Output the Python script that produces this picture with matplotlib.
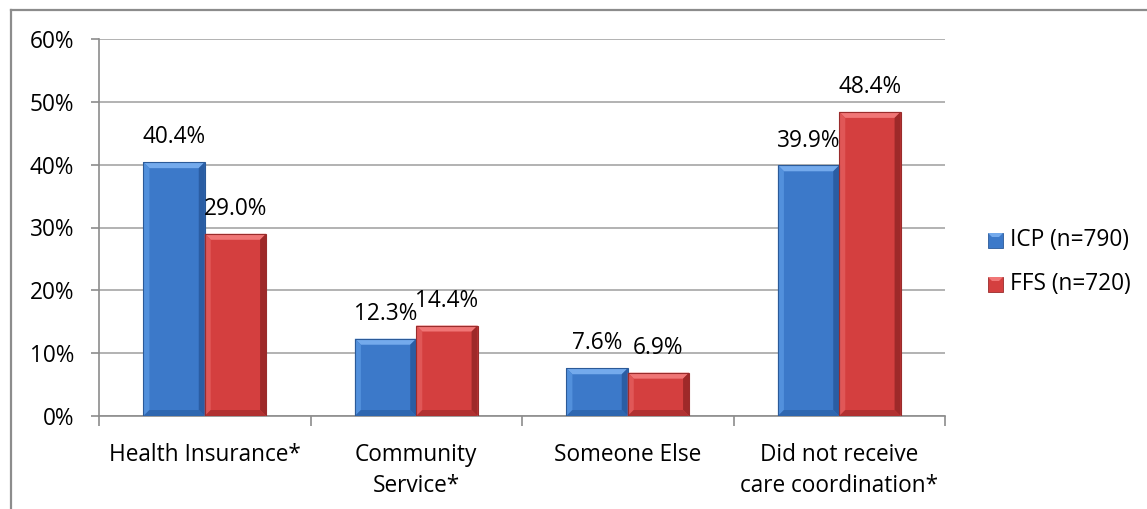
import matplotlib
matplotlib.use("Agg")
import matplotlib.pyplot as plt
from matplotlib.patches import Polygon, Rectangle
from matplotlib.lines import Line2D
import numpy as np

categories = ["Health Insurance*", "Community\nService*", "Someone Else",
              "Did not receive\ncare coordination*"]
icp_values = [40.4, 12.3, 7.6, 39.9]
ffs_values = [29.0, 14.4, 6.9, 48.4]
series_names = ["ICP (n=790)", "FFS (n=720)"]
y_ticks = [0, 10, 20, 30, 40, 50, 60]

plt.rcParams["font.family"] = ["Open Sans", "DejaVu Sans"]
FS = 16.3

W, H, DPI = 1147, 509, 100
fig = plt.figure(figsize=(W / DPI, H / DPI), dpi=DPI)
fig.patch.set_facecolor("white")

# outer chart border (left and top edges)
fig.add_artist(Line2D([11 / W, 11 / W], [0, 1 - 10 / H], color="#8c8c8c", lw=1.6,
                      transform=fig.transFigure))
fig.add_artist(Line2D([11 / W, 1], [1 - 10 / H, 1 - 10 / H], color="#8c8c8c", lw=1.6,
                      transform=fig.transFigure))

ax = fig.add_axes([99 / W, 93 / H, 846 / W, 377 / H])
ax.set_xlim(-0.5, len(categories) - 0.5)
ax.set_ylim(0, 60)

for s in ["top", "right"]:
    ax.spines[s].set_visible(False)
for s in ["left", "bottom"]:
    ax.spines[s].set_color("#8c8c8c")
    ax.spines[s].set_linewidth(1.2)

ax.set_yticks(y_ticks)
ax.set_yticklabels([f"{t}%" for t in y_ticks], fontsize=FS)
ax.yaxis.grid(True, color="#a6a6a6", lw=1.2)
ax.set_axisbelow(True)
ax.tick_params(axis="y", length=6, color="#8c8c8c", width=1.2, pad=12)

# category ticks sit on the boundaries, labels under the centers
ax.set_xticks(np.arange(-0.5, len(categories) + 0.5, 1.0))
ax.set_xticklabels([])
ax.tick_params(axis="x", length=7, color="#8c8c8c", width=1.2)
x = np.arange(len(categories))
for xi, lab in zip(x, categories):
    ax.annotate(lab, (xi, 0), xytext=(0, -19.5), textcoords="offset points",
                ha="center", va="top", fontsize=FS, linespacing=1.38,
                annotation_clip=False)

bw = 0.29
palettes = [
    dict(face="#3c79c9", top="#74aaec", left="#5290dc", right="#2a5da3",
         bottom="#2f67b0", edge="#2b5a98"),
    dict(face="#d43f3f", top="#f07676", left="#e05757", right="#9e2929",
         bottom="#b13131", edge="#9a2c2c"),
]

fig.canvas.draw()


def bevel_bar(rect, pal, d=6):
    """Draw a bevelled bar over the rectangle produced by ax.bar."""
    x0, y0 = rect.get_x(), rect.get_y()
    x1, y1 = x0 + rect.get_width(), y0 + rect.get_height()
    to_disp = ax.transData
    to_data = ax.transData.inverted()
    (X0, Y0), (X1, Y1) = to_disp.transform([(x0, y0), (x1, y1)])
    dd = min(d, (Y1 - Y0) / 2.0)
    outer = [(X0, Y0), (X1, Y0), (X1, Y1), (X0, Y1)]
    inner = [(X0 + d, Y0 + dd), (X1 - d, Y0 + dd), (X1 - d, Y1 - dd), (X0 + d, Y1 - dd)]
    faces = [
        ([outer[3], outer[2], inner[2], inner[3]], pal["top"]),
        ([outer[0], outer[3], inner[3], inner[0]], pal["left"]),
        ([outer[1], outer[2], inner[2], inner[1]], pal["right"]),
        ([outer[0], outer[1], inner[1], inner[0]], pal["bottom"]),
    ]
    for pts, col in faces:
        ax.add_patch(Polygon(to_data.transform(pts), closed=True, facecolor=col,
                             edgecolor="none", zorder=3))
    ax.add_patch(Rectangle((x0, y0), x1 - x0, y1 - y0, facecolor="none",
                           edgecolor=pal["edge"], lw=0.8, zorder=4))


for k, (vals, pal, name) in enumerate(zip([icp_values, ffs_values], palettes, series_names)):
    offs = (k - 0.5) * bw
    bars = ax.bar(x + offs, vals, bw, color=pal["face"], edgecolor="none",
                  zorder=2, label=name)
    for r, v in zip(bars, vals):
        bevel_bar(r, pal)
        ax.annotate(f"{v:.1f}%", (r.get_x() + bw / 2, v), xytext=(0, 13.5),
                    textcoords="offset points", ha="center", va="baseline",
                    fontsize=FS, zorder=5)

# legend with small bevelled squares
leg_items = [(series_names[0], palettes[0], 240), (series_names[1], palettes[1], 284)]
for name, pal, ypix in leg_items:
    sx, sy, s = 988, H - ypix - 8, 15
    fig.add_artist(Rectangle((sx / W, sy / H), s / W, s / H, facecolor=pal["face"],
                             edgecolor=pal["edge"], lw=0.6, transform=fig.transFigure))
    fig.add_artist(Polygon([(sx / W, (sy + s) / H), ((sx + s) / W, (sy + s) / H),
                            ((sx + s - 4) / W, (sy + s - 4) / H), ((sx + 4) / W, (sy + s - 4) / H)],
                           closed=True, facecolor=pal["top"], edgecolor="none",
                           transform=fig.transFigure))
    fig.text(1010 / W, 1 - ypix / H, name, fontsize=FS, va="center", ha="left")

fig.savefig("out.png", dpi=DPI, facecolor="white")
